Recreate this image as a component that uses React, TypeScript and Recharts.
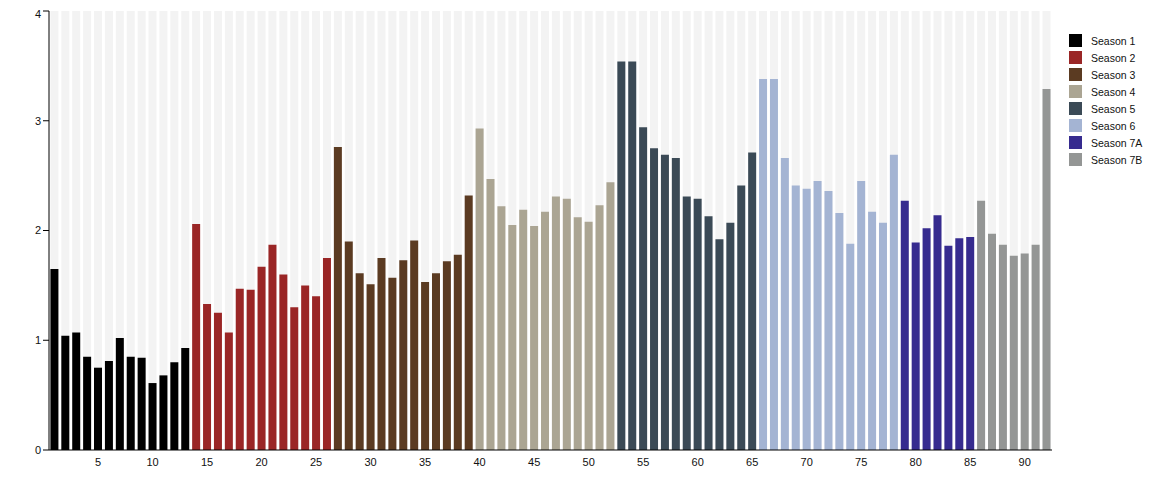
import React from "react"
import { BarChart, Bar, XAxis, YAxis } from "recharts"

// IMDb-style episode ratings, one array per season
const season1 = [1.65, 1.04, 1.07, 0.85, 0.75, 0.81, 1.02, 0.85, 0.84, 0.61, 0.68, 0.8, 0.93]
const season2 = [2.06, 1.33, 1.25, 1.07, 1.47, 1.46, 1.67, 1.87, 1.6, 1.3, 1.5, 1.4, 1.75]
const season3 = [2.76, 1.9, 1.61, 1.51, 1.75, 1.57, 1.73, 1.91, 1.53, 1.61, 1.72, 1.78, 2.32]
const season4 = [2.93, 2.47, 2.22, 2.05, 2.19, 2.04, 2.17, 2.31, 2.29, 2.12, 2.08, 2.23, 2.44]
const season5 = [3.54, 3.54, 2.94, 2.75, 2.69, 2.66, 2.31, 2.29, 2.13, 1.92, 2.07, 2.41, 2.71]
const season6 = [3.38, 3.38, 2.66, 2.41, 2.38, 2.45, 2.36, 2.16, 1.88, 2.45, 2.17, 2.07, 2.69]
const season7A = [2.27, 1.89, 2.02, 2.14, 1.86, 1.93, 1.94]
const season7B = [2.27, 1.97, 1.87, 1.77, 1.79, 1.87, 3.29]

const seasonNames = ["Season 1", "Season 2", "Season 3", "Season 4", "Season 5", "Season 6", "Season 7A", "Season 7B"]
const seasonColors = ["#000000", "#9a2626", "#5b3b22", "#aba593", "#3b4a56", "#a4b4d3", "#362b8f", "#949695"]
const seasonValues = [season1, season2, season3, season4, season5, season6, season7A, season7B]

const xTicks = [5, 10, 15, 20, 25, 30, 35, 40, 45, 50, 55, 60, 65, 70, 75, 80, 85, 90]
const yTicks = [0, 1, 2, 3, 4]

// one row per episode, value stored under its season's key
const data: Array<Record<string, number>> = []
seasonValues.forEach((vals, s) => {
  vals.forEach((v) => {
    data.push({ ep: data.length + 1, ["s" + s]: v })
  })
})

const font = "'Liberation Sans', Arial, sans-serif"

export default function App() {
  return (
    <div style={{ position: "relative", width: 1143, height: 480, fontFamily: font }}>
      <BarChart
        width={1135}
        height={480}
        data={data}
        margin={{ top: 3, right: 91, bottom: 8, left: 0 }}
        barCategoryGap="13%"
      >
        <XAxis
          dataKey="ep"
          interval={0}
          tickLine={false}
          tickFormatter={(v) => (xTicks.includes(v) ? String(v) : "")}
          tick={{ fontSize: 11, fill: "#111", fontFamily: font }}
          axisLine={{ stroke: "#000" }}
          height={30}
        />
        <YAxis
          domain={[0, 4]}
          ticks={yTicks}
          width={41}
          tick={{ fontSize: 11, fill: "#111", fontFamily: font }}
          axisLine={{ stroke: "#000" }}
          tickLine={{ stroke: "#000" }}
        />
        {seasonNames.map((name, i) => (
          <Bar
            key={name}
            dataKey={"s" + i}
            name={name}
            stackId="a"
            fill={seasonColors[i]}
            background={{ fill: "#f3f3f3" }}
            isAnimationActive={false}
          />
        ))}
      </BarChart>
      <div style={{ position: "absolute", left: 1061, top: 24, width: 80, whiteSpace: "nowrap" }}>
        {seasonNames.map((name, i) => (
          <div key={name} style={{ display: "flex", alignItems: "center", height: 17 }}>
            <span style={{ width: 13, height: 13, background: seasonColors[i], display: "inline-block", marginRight: 9, flexShrink: 0 }} />
            <span style={{ fontSize: 10.5, color: "#111" }}>{name}</span>
          </div>
        ))}
      </div>
    </div>
  )
}
